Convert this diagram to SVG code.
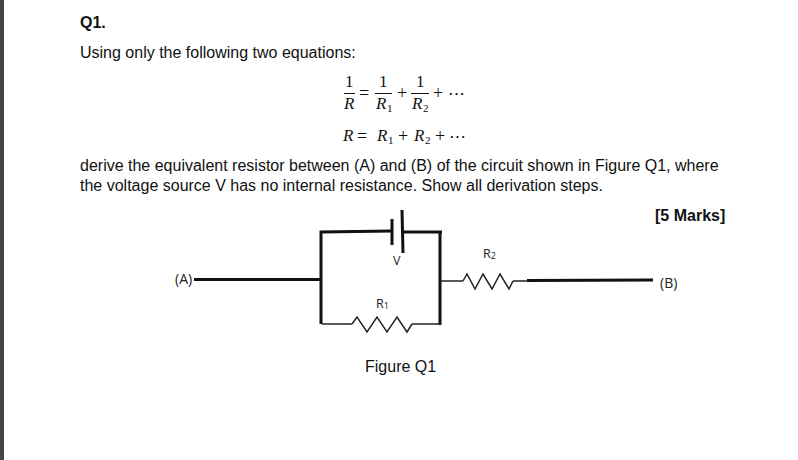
<svg xmlns="http://www.w3.org/2000/svg" width="798" height="460" viewBox="0 0 798 460">
<style>
.t{font-family:"Liberation Sans",Arial,sans-serif;font-size:16px;fill:#111}
.b{font-weight:bold}
.m{font-family:"Liberation Serif","Times New Roman",serif;font-size:17px;fill:#111}
.o{font-size:18px}
.i{font-style:italic}
.c{font-family:"Open Sans","Noto Sans",sans-serif;font-size:14px;fill:#222}
.r{font-size:12.500px}
.s{font-size:9px}
.u{font-size:11px}
.w{fill:none;stroke:#111;stroke-width:3}
.n{fill:none;stroke:#222;stroke-width:1.5}
.f{stroke:#111;stroke-width:1}
</style>
<rect width="798" height="460" fill="#fff"/>
<rect x="0" y="0" width="4" height="460" fill="#444"/>
<text class="t b" x="80" y="28">Q1.</text>
<text class="t" x="80" y="58">Using only the following two equations:</text>
<g id="equation1">
<text class="m" x="345" y="87">1</text>
<line class="f" x1="344" y1="93.500" x2="355" y2="93.500"/>
<text class="m i" x="344" y="109">R</text>
<text class="m o" x="359" y="99">=</text>
<text class="m" x="379" y="87">1</text>
<line class="f" x1="375" y1="93.500" x2="392" y2="93.500"/>
<text class="m i" x="376" y="109">R</text><text class="m u" x="387" y="112">1</text>
<text class="m o" x="397" y="99">+</text>
<text class="m" x="416" y="87">1</text>
<line class="f" x1="411" y1="93.500" x2="429" y2="93.500"/>
<text class="m i" x="412" y="109">R</text><text class="m u" x="423" y="112">2</text>
<text class="m o" x="433" y="99">+</text>
<text class="m" x="448" y="99">⋯</text>
</g>
<g id="equation2">
<text class="m i" x="343" y="141">R</text>
<text class="m o" x="357" y="142">=</text>
<text class="m i" x="377" y="141">R</text><text class="m u" x="388" y="144">1</text>
<text class="m o" x="398" y="142">+</text>
<text class="m i" x="414" y="141">R</text><text class="m u" x="425" y="144">2</text>
<text class="m o" x="435" y="142">+</text>
<text class="m" x="449" y="142">⋯</text>
</g>
<text class="t" x="80" y="171">derive the equivalent resistor between (A) and (B) of the circuit shown in Figure Q1, where</text>
<text class="t" x="80" y="191">the voltage source V has no internal resistance. Show all derivation steps.</text>
<text class="t b" x="655" y="221">[5 Marks]</text>
<g id="connectors">
<path class="w" d="M321 324V232L392 231"/>
<path class="w" d="M403 232H442M440 232V325"/>
<path class="w" d="M194 279.500H321"/>
<path class="w" d="M527 280.500L653 280"/>
<path class="n" d="M322 324H352"/>
<path class="n" d="M412 324H441"/>
<path class="n" d="M441 281H463"/>
<path class="n" d="M513 281H528"/>
</g>
<g id="node-a"><text class="c" x="175" y="284">(A)</text></g>
<g id="node-b"><text class="c" x="660" y="288">(B)</text></g>
<g id="battery-v">
<line class="w" x1="392" y1="219" x2="392" y2="245"/>
<line class="w" x1="402" y1="210" x2="403" y2="253"/>
<text class="c r" x="393" y="265">V</text>
</g>
<g id="resistor-r1">
<path class="n" d="M352 324L357 317L367 332L377 317L387 332L397 317L407 332L412 324"/>
<text class="c r" x="376" y="308">R<tspan class="s" dy="1">1</tspan></text>
</g>
<g id="resistor-r2">
<path class="n" d="M463 281L467 274L475 289L483 274L492 289L500 274L509 289L513 281"/>
<text class="c r" x="483" y="258">R<tspan class="s" dy="1">2</tspan></text>
</g>
<text class="t" x="365" y="372">Figure Q1</text>
</svg>
